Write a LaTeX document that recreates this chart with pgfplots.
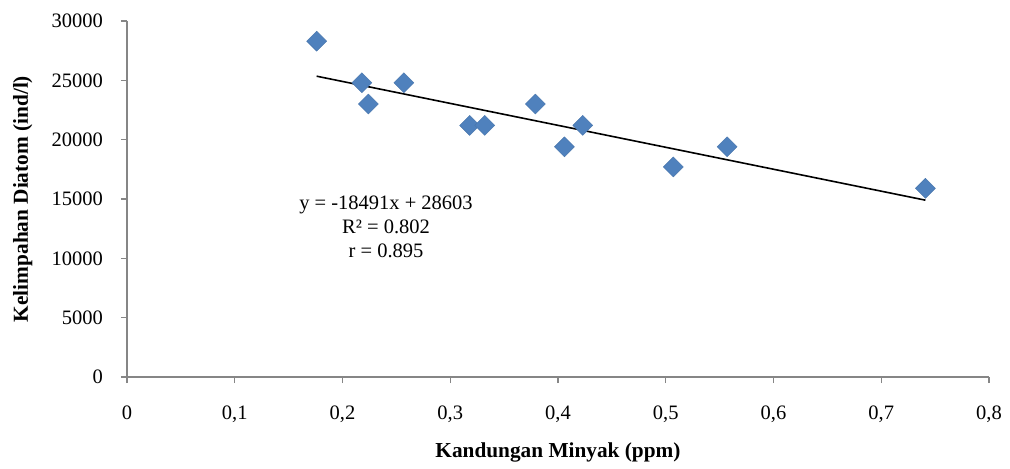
\documentclass[border=0pt]{standalone}
\usepackage{fontspec}
\setmainfont{Liberation Serif}
\usepackage{pgfplots}
\pgfplotsset{compat=1.18}

\definecolor{markblue}{HTML}{4F81BD}
\definecolor{axisgray}{HTML}{868686}

\begin{document}
\begin{tikzpicture}
\useasboundingbox (-127bp,-92bp) rectangle (883bp,377bp);
\begin{axis}[
    at={(0,0)}, anchor=south west,
    scale only axis, width=862bp, height=356bp,
    xmin=0, xmax=0.8, ymin=0, ymax=30000,
    xtick={0,0.1,...,0.8}, ytick={0,5000,...,30000},
    scaled y ticks=false,
    axis x line*=bottom, axis y line*=left,
    axis line style={axisgray, line width=1.2bp},
    tick style={axisgray, line width=1.2bp},
    major tick length=6bp, tick align=outside,
    font=\fontsize{20.5bp}{24bp}\selectfont,
    /pgf/number format/assume math mode=true,
    xticklabel style={/pgf/number format/use comma, /pgf/number format/fixed,
        /pgf/number format/precision=1},
    every x tick label/.append style={anchor=base, yshift=-36bp},
    yticklabel style={/pgf/number format/1000 sep={}},
    every y tick label/.append style={anchor=east, inner sep=0pt, xshift=-18bp},
    xlabel={\textbf{Kandungan Minyak (ppm)}},
    ylabel={\textbf{Kelimpahan Diatom (ind/l)}},
    xlabel style={at={(axis description cs:0.5,-0.2275)}, anchor=base,
        font=\fontsize{21.3bp}{24bp}\selectfont},
    ylabel style={at={(axis description cs:-0.121,0.5)}, anchor=center,
        font=\fontsize{21.3bp}{24bp}\selectfont},
    clip=false,
]
% observed points
\addplot[only marks, mark=square*, mark size=7.07bp,
    mark options={rotate=45, fill=markblue, draw=markblue!90!black, line width=0.4bp}]
coordinates {
    (0.176,28300) (0.218,24800) (0.224,23000) (0.257,24800)
    (0.318,21200) (0.332,21200) (0.379,23000) (0.406,19400)
    (0.423,21200) (0.507,17700) (0.557,19400) (0.741,15900)
};
% linear trendline y = -18491x + 28603
\addplot[black, line width=1.6bp] coordinates {(0.176,25349) (0.741,14901)};
\node[align=center, font=\fontsize{20.5bp}{24bp}\selectfont]
    at (axis cs:0.2404,12640) {y = -18491x + 28603\\R² = 0.802\\r = 0.895};
\end{axis}
\end{tikzpicture}
\end{document}
